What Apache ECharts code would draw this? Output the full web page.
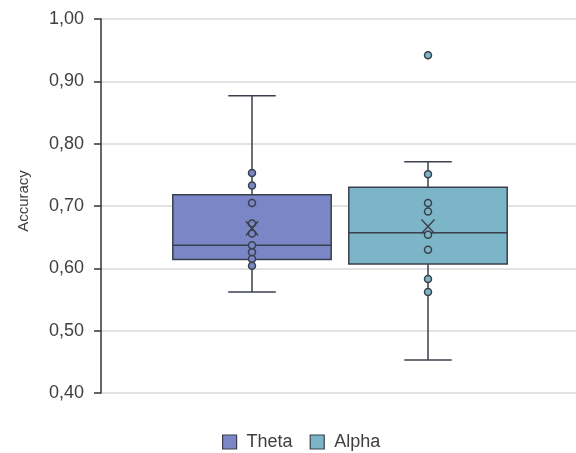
<!DOCTYPE html>
<html>
<head>
<meta charset="utf-8">
<script src="https://cdn.jsdelivr.net/npm/echarts@6/dist/echarts.min.js"></script>
<style>html,body{margin:0;padding:0;background:#fff}#c{width:576px;height:453px}</style>
</head>
<body>
<div id="c"></div>
<script>
// ---- data ----
const categories = ['Theta', 'Alpha'];
// [min, Q1, median, Q3, max] (whisker ends and box)
const thetaBox = [0.562, 0.614, 0.637, 0.718, 0.877];
const alphaBox = [0.453, 0.607, 0.657, 0.730, 0.771];
// inner points / outliers
const thetaPoints = [0.753, 0.733, 0.705, 0.672, 0.656, 0.637, 0.626, 0.615, 0.604];
const alphaPoints = [0.942, 0.751, 0.705, 0.691, 0.654, 0.630, 0.583, 0.562];
// means
const thetaMean = [0.664];
const alphaMean = [0.667];
const yTicks = [0.4, 0.5, 0.6, 0.7, 0.8, 0.9, 1.0];

const colors = { Theta: '#7B86C6', Alpha: '#7DB5C8' };
const edge = '#3A404B';

const chart = echarts.init(document.getElementById('c'), null, { renderer: 'canvas' });

function boxItem(params, api) {
  const x = api.value(0);
  const pMin = api.coord([x, api.value(1)]);
  const pQ1 = api.coord([x, api.value(2)]);
  const pMed = api.coord([x, api.value(3)]);
  const pQ3 = api.coord([x, api.value(4)]);
  const pMax = api.coord([x, api.value(5)]);
  const band = api.size([1, 0])[0];
  const bw = band * 0.9;
  const cw = band * 0.27;
  const cx = pMin[0];
  const ls = { stroke: edge, lineWidth: 1.5 };
  return {
    type: 'group',
    children: [
      { type: 'line', shape: { x1: cx, y1: pMax[1], x2: cx, y2: pQ3[1] }, style: ls },
      { type: 'line', shape: { x1: cx, y1: pQ1[1], x2: cx, y2: pMin[1] }, style: ls },
      { type: 'line', shape: { x1: cx - cw / 2, y1: pMax[1], x2: cx + cw / 2, y2: pMax[1] }, style: ls },
      { type: 'line', shape: { x1: cx - cw / 2, y1: pMin[1], x2: cx + cw / 2, y2: pMin[1] }, style: ls },
      { type: 'rect', shape: { x: cx - bw / 2, y: pQ3[1], width: bw, height: pQ1[1] - pQ3[1] },
        style: { fill: api.visual('color'), stroke: edge, lineWidth: 1.5 } },
      { type: 'line', shape: { x1: cx - bw / 2, y1: pMed[1], x2: cx + bw / 2, y2: pMed[1] }, style: ls }
    ]
  };
}

const font = 'Liberation Sans';
const yRange = { min: yTicks[0], max: yTicks[yTicks.length - 1], interval: 0.1 };

const option = {
  animation: false,
  textStyle: { fontFamily: font },
  grid: [
    { left: 101, right: 0, top: 19, bottom: 60 },
    { left: 164, right: 60, top: 19, bottom: 60 }
  ],
  legend: {
    data: categories,
    top: 433,
    left: 222,
    icon: 'rect',
    itemWidth: 14,
    itemHeight: 14,
    itemGap: 17,
    padding: 0,
    itemStyle: { borderColor: edge, borderWidth: 1.2 },
    textStyle: { fontFamily: font, fontSize: 18, color: '#404040', padding: [0, 0, 0, 5] }
  },
  xAxis: [
    { gridIndex: 0, type: 'value', show: false, min: 0, max: 1 },
    { gridIndex: 1, type: 'category', data: categories, show: false, boundaryGap: true }
  ],
  yAxis: [
    Object.assign({
      gridIndex: 0, type: 'value',
      name: 'Accuracy', nameLocation: 'middle', nameGap: 70, nameRotate: 90,
      nameTextStyle: { fontFamily: font, fontSize: 15, color: '#404040', padding: [0, 0, 0, 10] },
      axisLine: { show: true, lineStyle: { color: '#333', width: 1.5 } },
      axisTick: { show: true, inside: false, length: 7, lineStyle: { color: '#333', width: 1.5 } },
      splitLine: { show: true, lineStyle: { color: '#D9D9D9', width: 1.5 } },
      axisLabel: { margin: 17, fontSize: 18, color: '#404040', fontFamily: font,
        formatter: v => v.toFixed(2).replace('.', ',') }
    }, yRange),
    Object.assign({ gridIndex: 1, type: 'value', show: false, splitLine: { show: false } }, yRange)
  ],
  series: [
    { name: 'Theta', type: 'custom', xAxisIndex: 1, yAxisIndex: 1, color: colors.Theta,
      renderItem: boxItem, encode: { x: 0, y: [1, 2, 3, 4, 5] },
      data: [[0].concat(thetaBox)], z: 2 },
    { name: 'Alpha', type: 'custom', xAxisIndex: 1, yAxisIndex: 1, color: colors.Alpha,
      renderItem: boxItem, encode: { x: 0, y: [1, 2, 3, 4, 5] },
      data: [[1].concat(alphaBox)], z: 2 },
    { name: 'Theta', type: 'scatter', xAxisIndex: 1, yAxisIndex: 1, z: 3,
      symbol: 'circle', symbolSize: 7,
      itemStyle: { color: colors.Theta, borderColor: edge, borderWidth: 1.5, opacity: 1 },
      data: thetaPoints.map(v => [0, v]) },
    { name: 'Alpha', type: 'scatter', xAxisIndex: 1, yAxisIndex: 1, z: 3,
      symbol: 'circle', symbolSize: 7,
      itemStyle: { color: colors.Alpha, borderColor: edge, borderWidth: 1.5, opacity: 1 },
      data: alphaPoints.map(v => [1, v]) },
    { name: 'Theta', type: 'scatter', xAxisIndex: 1, yAxisIndex: 1, z: 4,
      symbol: 'path://M0,0L10,10M10,0L0,10', symbolSize: [12, 14],
      itemStyle: { color: 'rgba(0,0,0,0)', borderColor: edge, borderWidth: 1.5, opacity: 1 },
      data: thetaMean.map(v => [0, v]) },
    { name: 'Alpha', type: 'scatter', xAxisIndex: 1, yAxisIndex: 1, z: 4,
      symbol: 'path://M0,0L10,10M10,0L0,10', symbolSize: [13, 14],
      itemStyle: { color: 'rgba(0,0,0,0)', borderColor: edge, borderWidth: 1.5, opacity: 1 },
      data: alphaMean.map(v => [1, v]) }
  ]
};
chart.setOption(option);
</script>
</body>
</html>
